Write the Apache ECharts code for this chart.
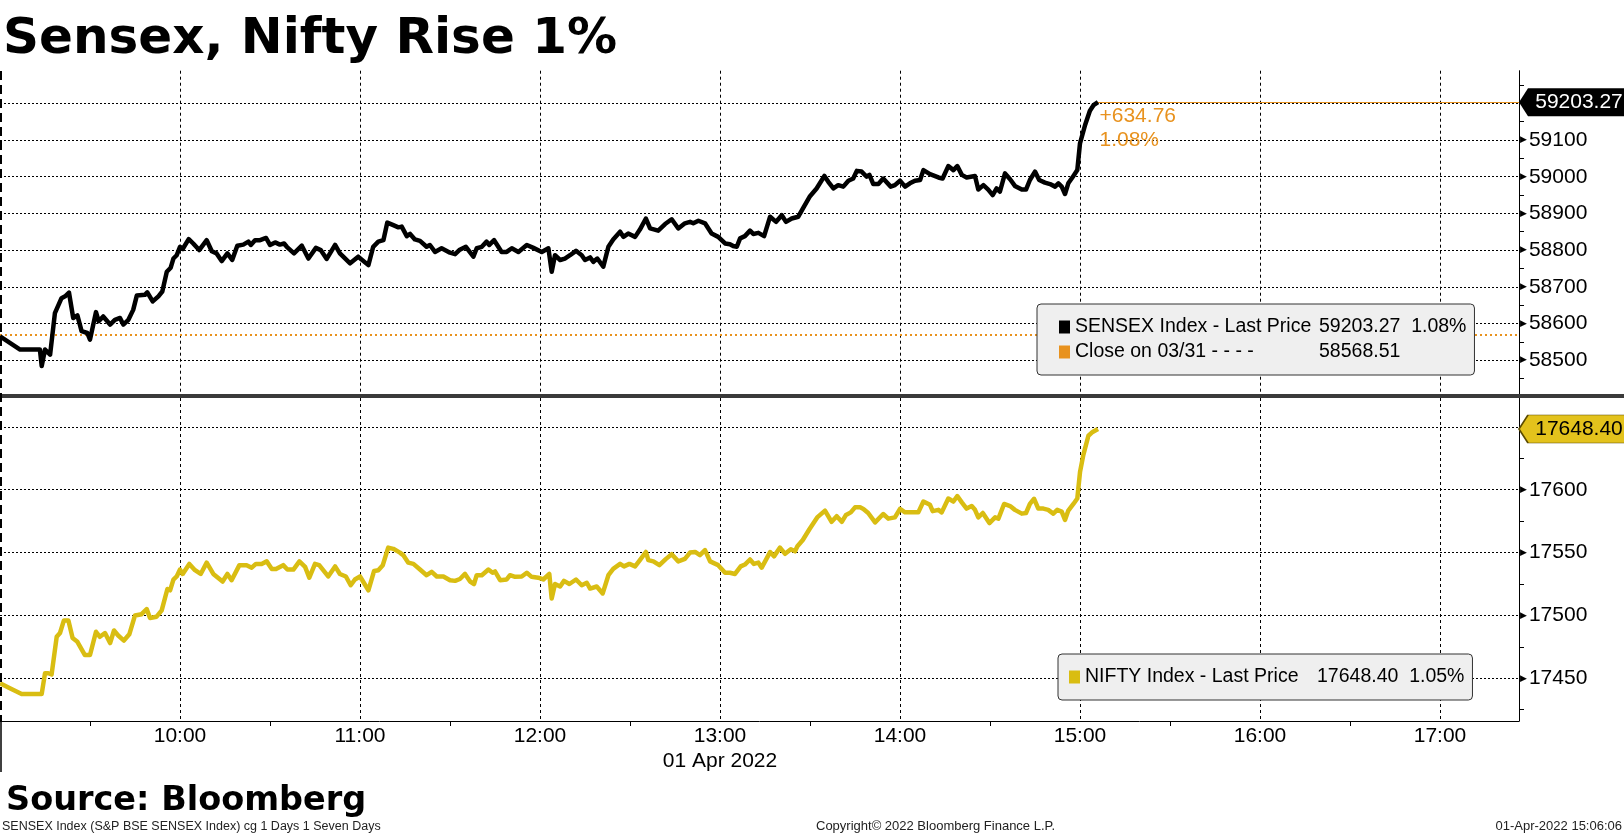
<!DOCTYPE html>
<html lang="en">
<head>
<meta charset="UTF-8">
<title>Sensex, Nifty Rise 1%</title>
<style>
    html, body { margin: 0; padding: 0; background: #fff; }
    #echart { width: 1624px; height: 835px; }
</style>
</head>
<body>

<div id="echart"></div>

<script src="https://cdn.jsdelivr.net/npm/echarts@6.0.0/dist/echarts.min.js"></script>
<script>
    // intraday readings, 01 Apr 2022 (local exchange time)
    const sensexTimes = [
        "09:00:00", "09:06:42", "09:13:18", "09:13:54", "09:15:00", "09:16:42", "09:18:18", "09:20:30", "09:21:42", "09:23:00",
        "09:24:24", "09:25:48", "09:27:12", "09:29:06", "09:30:00", "09:32:00", "09:32:54", "09:34:24", "09:36:42", "09:38:18",
        "09:40:00", "09:41:06", "09:42:48", "09:44:24", "09:45:36", "09:48:18", "09:49:06", "09:50:54", "09:52:48", "09:54:06",
        "09:55:36", "09:56:54", "09:57:48", "09:58:54", "10:00:00", "10:00:54", "10:02:54", "10:04:24", "10:06:24", "10:08:54",
        "10:10:36", "10:12:12", "10:13:54", "10:15:48", "10:17:24", "10:19:06", "10:21:06", "10:22:48", "10:23:36", "10:25:00",
        "10:26:42", "10:28:42", "10:30:00", "10:31:42", "10:33:18", "10:34:42", "10:35:36", "10:38:00", "10:40:36", "10:42:48",
        "10:45:18", "10:46:54", "10:48:54", "10:51:42", "10:53:18", "10:56:42", "10:59:24", "11:00:00", "11:02:48", "11:04:24",
        "11:06:06", "11:07:48", "11:09:06", "11:11:06", "11:12:48", "11:13:54", "11:15:36", "11:16:42", "11:18:18", "11:20:00",
        "11:22:12", "11:23:18", "11:25:00", "11:27:12", "11:30:00", "11:31:42", "11:33:06", "11:35:18", "11:37:48", "11:38:54",
        "11:40:36", "11:42:12", "11:43:06", "11:44:42", "11:46:06", "11:47:12", "11:48:54", "11:50:36", "11:52:48", "11:55:36",
        "11:57:48", "12:00:36", "12:02:48", "12:03:54", "12:05:00", "12:06:42", "12:08:18", "12:10:00", "12:12:00", "12:13:54",
        "12:15:00", "12:16:42", "12:17:48", "12:19:06", "12:21:06", "12:22:48", "12:24:24", "12:26:42", "12:27:48", "12:29:24",
        "12:31:42", "12:33:18", "12:35:18", "12:36:42", "12:39:24", "12:41:42", "12:43:54", "12:46:06", "12:48:18", "12:50:00",
        "12:51:06", "12:52:48", "12:55:00", "12:57:12", "12:59:24", "13:01:42", "13:03:18", "13:04:24", "13:05:36", "13:06:42",
        "13:08:18", "13:10:00", "13:11:06", "13:12:48", "13:14:42", "13:16:42", "13:18:42", "13:20:36", "13:22:00", "13:23:54",
        "13:26:06", "13:27:48", "13:30:00", "13:32:12", "13:34:48", "13:36:06", "13:37:48", "13:39:24", "13:41:06", "13:42:48",
        "13:44:24", "13:45:36", "13:47:12", "13:48:54", "13:49:48", "13:51:06", "13:52:48", "13:54:24", "13:56:54", "13:58:18",
        "14:00:00", "14:01:42", "14:03:18", "14:05:00", "14:06:42", "14:07:48", "14:10:00", "14:12:48", "14:14:12", "14:16:06",
        "14:17:48", "14:19:06", "14:20:36", "14:22:12", "14:25:00", "14:26:06", "14:27:48", "14:29:24", "14:30:54", "14:32:12",
        "14:33:18", "14:35:00", "14:36:42", "14:38:18", "14:40:36", "14:42:00", "14:43:18", "14:45:00", "14:46:24", "14:48:18",
        "14:50:00", "14:51:42", "14:52:48", "14:53:54", "14:55:00", "14:56:06", "14:57:48", "14:59:06", "15:00:00", "15:01:42",
        "15:03:18", "15:04:30", "15:06:00"
    ];
    const sensexValues = [
        58565, 58529, 58529, 58484, 58529, 58515, 58628, 58669, 58674, 58684,
        58615, 58622, 58579, 58574, 58556, 58631, 58606, 58619, 58597, 58610,
        58615, 58597, 58610, 58637, 58676, 58678, 58685, 58660, 58674, 58687,
        58741, 58752, 58777, 58786, 58809, 58803, 58830, 58818, 58800, 58827,
        58797, 58791, 58770, 58791, 58773, 58812, 58815, 58823, 58814, 58827,
        58827, 58833, 58814, 58821, 58815, 58818, 58809, 58791, 58812, 58777,
        58806, 58800, 58776, 58814, 58791, 58764, 58782, 58780, 58759, 58809,
        58823, 58827, 58875, 58868, 58862, 58864, 58838, 58844, 58829, 58825,
        58809, 58814, 58795, 58805, 58793, 58789, 58800, 58809, 58782, 58805,
        58809, 58823, 58814, 58827, 58809, 58795, 58795, 58805, 58795, 58814,
        58806, 58795, 58805, 58741, 58786, 58773, 58777, 58786, 58798, 58786,
        58773, 58780, 58768, 58777, 58755, 58809, 58829, 58850, 58836, 58845,
        58836, 58856, 58886, 58859, 58853, 58871, 58884, 58859, 58873, 58877,
        58873, 58880, 58873, 58845, 58836, 58818, 58816, 58811, 58809, 58832,
        58838, 58853, 58844, 58847, 58838, 58891, 58877, 58895, 58877, 58886,
        58891, 58916, 58947, 58968, 59002, 58986, 58968, 58977, 58973, 58989,
        58995, 59016, 59014, 59000, 59005, 58980, 58980, 58995, 58973, 58977,
        58989, 58973, 58982, 58989, 58991, 59018, 59007, 58998, 58995, 59029,
        59018, 59029, 59005, 58998, 59002, 58965, 58977, 58965, 58950, 58968,
        58959, 59009, 58993, 58975, 58965, 58965, 58991, 59014, 58991, 58984,
        58980, 58973, 58982, 58973, 58953, 58982, 59002, 59018, 59091, 59141,
        59180, 59195, 59203.27
    ];
    const niftyTimes = [
        "09:00:00", "09:03:18", "09:07:12", "09:13:54", "09:15:00", "09:16:06", "09:17:12", "09:18:54", "09:20:00", "09:21:18",
        "09:22:48", "09:24:12", "09:25:48", "09:28:18", "09:30:00", "09:32:00", "09:33:18", "09:35:00", "09:36:42", "09:38:00",
        "09:39:24", "09:41:18", "09:43:06", "09:45:00", "09:47:12", "09:48:54", "09:50:00", "09:52:12", "09:53:54", "09:55:48",
        "09:56:42", "09:57:48", "09:58:54", "10:00:00", "10:00:54", "10:03:06", "10:05:00", "10:06:54", "10:08:54", "10:11:06",
        "10:14:12", "10:15:48", "10:17:12", "10:19:48", "10:22:12", "10:23:54", "10:25:18", "10:27:12", "10:28:54", "10:30:36",
        "10:32:00", "10:34:24", "10:35:48", "10:37:48", "10:39:48", "10:41:42", "10:43:06", "10:45:00", "10:46:24", "10:49:24",
        "10:51:42", "10:53:18", "10:55:18", "10:56:54", "10:58:18", "11:00:00", "11:02:48", "11:04:42", "11:06:06", "11:07:36",
        "11:09:24", "11:11:06", "11:13:18", "11:14:24", "11:16:06", "11:17:48", "11:20:00", "11:22:12", "11:23:54", "11:25:36",
        "11:27:48", "11:30:00", "11:31:42", "11:33:18", "11:35:00", "11:36:42", "11:38:00", "11:38:54", "11:40:36", "11:42:48",
        "11:44:12", "11:45:00", "11:46:42", "11:48:54", "11:50:00", "11:51:42", "11:53:54", "11:55:36", "11:57:12", "11:59:24",
        "12:01:06", "12:03:06", "12:03:54", "12:05:00", "12:06:42", "12:08:00", "12:09:48", "12:12:00", "12:13:54", "12:15:36",
        "12:16:42", "12:18:54", "12:20:54", "12:22:48", "12:24:24", "12:26:42", "12:28:00", "12:29:48", "12:31:42", "12:33:18",
        "12:35:18", "12:36:06", "12:37:48", "12:39:48", "12:42:00", "12:43:54", "12:46:06", "12:48:18", "12:50:00", "12:51:42",
        "12:53:18", "12:55:00", "12:56:42", "12:59:24", "13:01:42", "13:03:18", "13:05:00", "13:06:54", "13:08:18", "13:10:00",
        "13:11:18", "13:12:48", "13:13:54", "13:16:42", "13:18:00", "13:20:00", "13:21:42", "13:23:36", "13:25:00", "13:25:48",
        "13:27:36", "13:29:48", "13:32:24", "13:35:00", "13:37:12", "13:38:54", "13:40:36", "13:42:00", "13:43:36", "13:45:00",
        "13:46:42", "13:47:48", "13:49:24", "13:51:42", "13:54:24", "13:56:06", "13:58:18", "14:00:00", "14:01:42", "14:03:54",
        "14:06:06", "14:07:48", "14:10:00", "14:10:54", "14:12:48", "14:13:54", "14:16:06", "14:17:48", "14:19:06", "14:20:36",
        "14:22:12", "14:23:54", "14:25:00", "14:26:06", "14:27:36", "14:29:48", "14:31:42", "14:32:48", "14:34:42", "14:36:42",
        "14:38:18", "14:40:36", "14:42:00", "14:43:18", "14:44:42", "14:46:06", "14:47:48", "14:49:24", "14:51:06", "14:52:24",
        "14:53:54", "14:55:00", "14:56:06", "14:57:48", "14:59:06", "15:00:00", "15:01:06", "15:02:48", "15:04:12", "15:06:00"
    ];
    const niftyValues = [
        17446, 17442, 17437.5, 17437.5, 17454, 17454, 17453, 17483, 17486, 17496,
        17496, 17482, 17479, 17468.5, 17468.5, 17487, 17483, 17486, 17478, 17488,
        17484, 17480, 17485, 17500, 17501, 17505, 17498, 17499, 17504, 17521,
        17520, 17528.5, 17531, 17536.5, 17533, 17541, 17536, 17533, 17542, 17533,
        17527, 17533, 17528, 17540, 17540, 17538, 17541, 17541, 17543, 17537,
        17537, 17540, 17536.5, 17536.5, 17543, 17538.6, 17530, 17541, 17540, 17531,
        17539, 17533, 17531, 17524, 17528.6, 17531, 17520, 17535.4, 17536, 17540,
        17554, 17553, 17550, 17548, 17542, 17541, 17536.5, 17532, 17534.7, 17531,
        17531, 17528, 17527.5, 17529, 17533, 17527, 17525, 17532, 17532, 17536.5,
        17534, 17535, 17528, 17528.6, 17532, 17530.7, 17531, 17534, 17530.7, 17530,
        17528.6, 17533, 17513.5, 17525, 17523, 17527.5, 17525, 17528.6, 17524, 17526,
        17521.4, 17523, 17517.5, 17532, 17537, 17541, 17539, 17541, 17539, 17544,
        17550.5, 17544, 17543, 17540, 17545, 17548.7, 17543, 17545, 17550, 17550.5,
        17548, 17552, 17543, 17540, 17534, 17534, 17533, 17539, 17540.5, 17544.5,
        17541, 17542, 17538, 17550.4, 17547, 17554, 17549, 17552.6, 17551, 17555,
        17560, 17568.6, 17578, 17583.4, 17574.5, 17579, 17574.5, 17580, 17582, 17586,
        17586, 17584.7, 17581.5, 17574, 17580.7, 17577, 17578, 17584.7, 17582, 17582,
        17582, 17590.6, 17588, 17583, 17584, 17582, 17593, 17590.6, 17595, 17590,
        17585, 17587, 17584, 17578, 17581.5, 17573.5, 17578, 17577, 17588.7, 17587,
        17584, 17581, 17581.5, 17588.7, 17592.8, 17585, 17585, 17584, 17581, 17584,
        17582.6, 17576, 17583.4, 17588.7, 17593, 17614, 17627.6, 17643, 17646, 17648.40
    ];
    const sensexPrevClose = 58568.51;
    const niftyPrevClose = 17464.75;

    // axes
    const axisStart = "09:00:00";
    const axisEnd = "17:26:20";
    const hourLabels = ["10:00", "11:00", "12:00", "13:00", "14:00", "15:00", "16:00", "17:00"];
    const halfHourTicks = ["09:30", "10:30", "11:30", "12:30", "13:30", "14:30", "15:30", "16:30"];
    const dateLabel = "01 Apr 2022";
    const dateUnder = "13:00";
    const sensexLabels = [58500, 58600, 58700, 58800, 58900, 59000, 59100];
    const niftyLabels = [17450, 17500, 17550, 17600];

    const FONT = '"Liberation Sans", Arial, sans-serif';
    const BOLD = '"DejaVu Sans", Verdana, sans-serif';
    const ORANGE = "#e8921e";
    const YELLOW = "#d9bd12";

    const toMin = (t) => {
        const [h, m, s] = t.split(":").map(Number);
        return (h - 9) * 60 + m + (s || 0) / 60;
    };
    const xMin = toMin(axisStart);
    const xMax = toMin(axisEnd);
    const hourMinutes = hourLabels.map(toMin);

    const sensexData = sensexTimes.map((t, i) => [toMin(t), sensexValues[i]]);
    const niftyData = niftyTimes.map((t, i) => [toMin(t), niftyValues[i]]);
    const sLast = sensexData[sensexData.length - 1];
    const nLast = niftyData[niftyData.length - 1];
    const sChg = sLast[1] - sensexPrevClose;
    const sPct = (sChg / sensexPrevClose) * 100;
    const nPct = ((nLast[1] - niftyPrevClose) / niftyPrevClose) * 100;

    const sensexName = "SENSEX Index - Last Price";
    const closeName = "Close on 03/31";
    const niftyName = "NIFTY Index - Last Price";

    const yRich = {
        t: { fontFamily: BOLD, fontSize: 9, color: "#000", padding: [0, 2, 0, 0] },
        v: { fontFamily: FONT, fontSize: 21, color: "#000" }
    };
    const yLabel = (v) => "{t|\u25B6}{v|" + v + "}";

    function xLabel(v) {
        const i = hourMinutes.findIndex((m) => Math.abs(m - v) < 0.01);
        if (i < 0) return "";
        return hourLabels[i] + (hourLabels[i] === dateUnder ? "\n" + dateLabel : "");
    }

    function tag(value, fill, textColor, border) {
        return {
            coord: [xMax, value],
            symbol: "path://M0,13.5L9,0L110,0L110,27L9,27Z",
            symbolSize: [110, 28],
            symbolOffset: [55, 0],
            itemStyle: { color: fill, borderColor: border || fill, borderWidth: border ? 1 : 0 },
            label: {
                show: true, position: "inside", offset: [5, 0],
                formatter: value.toFixed(2),
                color: textColor, fontFamily: FONT, fontSize: 21
            }
        };
    }

    // main time axis: hourly grid lines (+ labels on the lower panel)
    function xAxisFor(grid, bottom) {
        return {
            type: "value", gridIndex: grid, min: xMin, max: xMax, interval: 60,
            axisLine: { show: bottom, onZero: false, lineStyle: { color: "#000", width: 1 } },
            axisTick: { show: false },
            axisLabel: {
                show: bottom, customValues: hourMinutes, formatter: xLabel,
                fontFamily: FONT, fontSize: 21, color: "#000", lineHeight: 25, margin: 3
            },
            splitLine: {
                show: true, showMinLine: false, showMaxLine: false,
                lineStyle: { color: "#000", width: 1, type: [3, 3] }
            }
        };
    }

    function yAxisFor(grid, min, max, split, labels) {
        return {
            type: "value", gridIndex: grid, position: "right",
            min: min, max: max, splitNumber: split,
            axisLine: { show: true, onZero: false, lineStyle: { color: "#000", width: 1 } },
            axisTick: { show: false },
            minorTick: { show: true, splitNumber: 2, length: 5, lineStyle: { color: "#000", width: 1 } },
            axisLabel: { customValues: labels, formatter: yLabel, rich: yRich, margin: 1 },
            splitLine: {
                show: true, showMinLine: false, showMaxLine: false,
                lineStyle: { color: "#000", width: 1, type: [2, 2] }
            }
        };
    }

    // extra time axis carrying only the half-hour tick marks
    const halfHourAxis = {
        type: "value", gridIndex: 1, position: "bottom", offset: 0,
        min: xMin, max: xMax,
        axisLine: { show: false, onZero: false },
        axisLabel: { show: false },
        splitLine: { show: false },
        axisTick: {
            show: true, customValues: halfHourTicks.map(toMin), length: 5,
            lineStyle: { color: "#000", width: 1 }
        }
    };

    const legendBase = {
        orient: "vertical", icon: "rect", itemWidth: 11, itemHeight: 13, itemGap: 5,
        backgroundColor: "#efefef", borderColor: "#333", borderWidth: 1, borderRadius: 4,
        selectedMode: false,
        textStyle: { fontFamily: FONT, fontSize: 19.5, color: "#000", lineHeight: 20 }
    };
    const legendRich = (w) => ({
        n: { fontFamily: FONT, fontSize: 19.5, color: "#000", width: w },
        v: { fontFamily: FONT, fontSize: 19.5, color: "#000" }
    });

    const myChart = echarts.init(document.getElementById("echart"));

    const option = {
        animation: false,
        backgroundColor: "#fff",
        title: [
            {
                text: "Sensex, Nifty Rise 1%", left: 3, top: 15, padding: 0,
                textStyle: { fontFamily: BOLD, fontWeight: "bold", fontSize: 50, lineHeight: 50, color: "#000" }
            },
            {
                text: "Source: Bloomberg", left: 6, top: 784, padding: 0,
                textStyle: { fontFamily: BOLD, fontWeight: "bold", fontSize: 33.5, lineHeight: 34, color: "#000" }
            },
            {
                text: "SENSEX Index (S&P BSE SENSEX Index) cg 1 Days 1 Seven Days", left: 2, top: 820, padding: 0,
                textStyle: { fontFamily: FONT, fontSize: 12.5, fontWeight: "normal", lineHeight: 13, color: "#222" }
            },
            {
                text: "Copyright\u00A9 2022 Bloomberg Finance L.P.", left: 816, top: 820, padding: 0,
                textStyle: { fontFamily: FONT, fontSize: 13, fontWeight: "normal", lineHeight: 13, color: "#222" }
            },
            {
                text: "01-Apr-2022 15:06:06", right: 2, top: 820, padding: 0,
                textStyle: { fontFamily: FONT, fontSize: 13, fontWeight: "normal", lineHeight: 13, color: "#222" }
            }
        ],
        legend: [
            Object.assign({}, legendBase, {
                data: [sensexName, closeName],
                left: 1037, top: 304, padding: [13, 8, 13, 22],
                formatter: (name) => name === sensexName
                    ? "{n|SENSEX Index - Last Price}{v|" + sLast[1].toFixed(2) + "  " + sPct.toFixed(2) + "%}"
                    : "{n|Close on 03/31 - - - -}{v|" + sensexPrevClose.toFixed(2) + "}",
                textStyle: Object.assign({}, legendBase.textStyle, { rich: legendRich(244) })
            }),
            Object.assign({}, legendBase, {
                data: [niftyName],
                left: 1058, top: 654, padding: [13, 8, 13, 11],
                formatter: () => "{n|NIFTY Index - Last Price}{v|" + nLast[1].toFixed(2) + "  " + nPct.toFixed(2) + "%}",
                textStyle: Object.assign({}, legendBase.textStyle, { rich: legendRich(232) })
            })
        ],
        grid: [
            { left: 0, top: 70.7, width: 1519, height: 324.3 },
            { left: 0, top: 398, width: 1519, height: 323 }
        ],
        xAxis: [xAxisFor(0, false), xAxisFor(1, true), halfHourAxis],
        yAxis: [
            yAxisFor(0, 58405, 59289, 9, sensexLabels),
            yAxisFor(1, 17416, 17673, 5, niftyLabels)
        ],
        series: [
            {
                name: closeName, type: "line", xAxisIndex: 0, yAxisIndex: 0,
                data: [[xMin, sensexPrevClose], [xMax, sensexPrevClose]],
                symbol: "none", silent: true, z: 3,
                itemStyle: { color: ORANGE },
                lineStyle: { color: ORANGE, width: 2, type: [2, 3] }
            },
            {
                name: sensexName, type: "line", xAxisIndex: 0, yAxisIndex: 0,
                data: sensexData, symbol: "none", z: 5,
                itemStyle: { color: "#000" },
                lineStyle: { color: "#000", width: 4.5, join: "round" },
                markLine: {
                    silent: true, symbol: "none", label: { show: false },
                    lineStyle: { color: ORANGE, width: 1, type: "solid" },
                    data: [[{ coord: sLast }, { coord: [xMax, sLast[1]] }]]
                },
                markPoint: {
                    silent: true,
                    data: [
                        tag(sLast[1], "#000", "#fff"),
                        {
                            coord: sLast, symbol: "rect", symbolSize: 1,
                            itemStyle: { color: "rgba(0,0,0,0)" },
                            label: {
                                show: true, position: [2, 3], align: "left", verticalAlign: "top",
                                formatter: "+" + sChg.toFixed(2) + "\n" + sPct.toFixed(2) + "%",
                                color: ORANGE, fontFamily: FONT, fontSize: 21, lineHeight: 24
                            }
                        }
                    ]
                }
            },
            {
                name: niftyName, type: "line", xAxisIndex: 1, yAxisIndex: 1,
                data: niftyData, symbol: "none", z: 5,
                itemStyle: { color: YELLOW },
                lineStyle: { color: YELLOW, width: 4.5, join: "round" },
                markPoint: {
                    silent: true,
                    data: [tag(nLast[1], "#e3c21c", "#000", "#5a4a00")]
                }
            }
        ],
        graphic: [
            { type: "rect", shape: { x: 0, y: 394, width: 1624, height: 4 }, style: { fill: "#3a3a3a" }, z: 100 },
            { type: "line", shape: { x1: 1, y1: 71, x2: 1, y2: 721 }, style: { stroke: "#000", lineWidth: 2, lineDash: [9, 5] }, z: 100 },
            { type: "line", shape: { x1: 1, y1: 721, x2: 1, y2: 772 }, style: { stroke: "#000", lineWidth: 1.5 }, z: 100 }
        ]
    };

    myChart.setOption(option);
</script>

</body>
</html>
